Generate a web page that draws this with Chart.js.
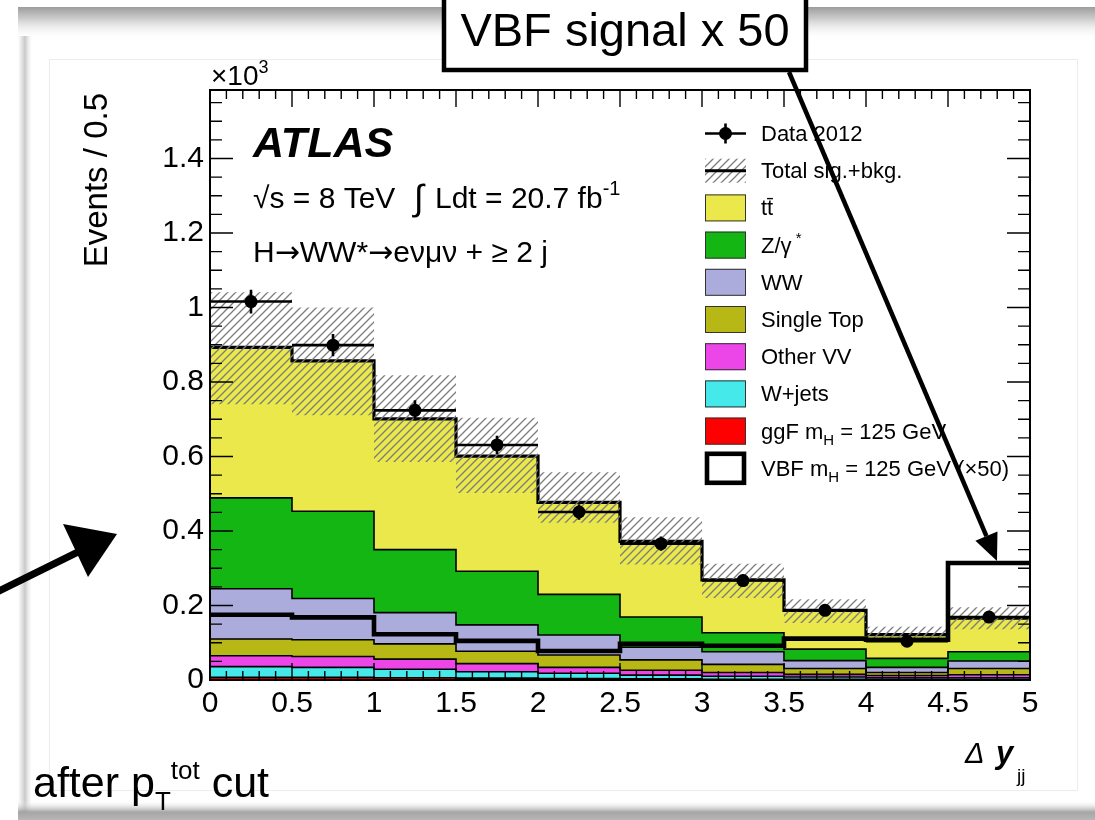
<!DOCTYPE html>
<html>
<head>
<meta charset="utf-8">
<title>Delta y_jj after pT tot cut</title>
<script src="https://cdn.jsdelivr.net/npm/chart.js@4.4.0/dist/chart.umd.min.js"></script>
<style>
  html, body { margin: 0; padding: 0; background: #fff; }
  canvas { display: block; }
</style>
</head>
<body>
<canvas id="dyjj" width="1095" height="820"></canvas>
<script>
// Delta y_jj distribution, events / 0.5 in units of 10^3
const binEdges = [0, 0.5, 1, 1.5, 2, 2.5, 3, 3.5, 4, 4.5, 5];
const xTickValues = [0, 0.5, 1, 1.5, 2, 2.5, 3, 3.5, 4, 4.5, 5];
const yTickValues = [0, 0.2, 0.4, 0.6, 0.8, 1, 1.2, 1.4];

// stacked contributions, bottom to top
const ggF       = [0.007, 0.007, 0.006, 0.005, 0.004, 0.003, 0.002, 0.002, 0.002, 0.002];
const wJets     = [0.029, 0.027, 0.023, 0.017, 0.014, 0.010, 0.008, 0.006, 0.004, 0.004];
const otherVV   = [0.029, 0.029, 0.027, 0.022, 0.016, 0.013, 0.010, 0.007, 0.006, 0.008];
const singleTop = [0.045, 0.045, 0.041, 0.033, 0.033, 0.028, 0.022, 0.016, 0.008, 0.017];
const wwBkg     = [0.135, 0.111, 0.084, 0.071, 0.054, 0.034, 0.034, 0.021, 0.014, 0.020];
const zGamma    = [0.244, 0.234, 0.169, 0.144, 0.109, 0.081, 0.051, 0.031, 0.024, 0.025];
const ttbar     = [0.404, 0.404, 0.351, 0.309, 0.247, 0.203, 0.142, 0.104, 0.064, 0.090];

// uncertainty band on the total
const bandUp   = [0.148, 0.143, 0.117, 0.103, 0.081, 0.065, 0.043, 0.030, 0.021, 0.029];
const bandDown = [0.153, 0.146, 0.116, 0.099, 0.055, 0.062, 0.049, 0.034, 0.018, 0.030];

// VBF signal scaled by 50
const vbfX50 = [0.175, 0.168, 0.123, 0.105, 0.078, 0.097, 0.092, 0.111, 0.108, 0.314];

// observed data with statistical errors
const data2012 = [1.016, 0.899, 0.724, 0.631, 0.451, 0.366, 0.267, 0.187, 0.104, 0.169];
const dataErr  = [0.032, 0.030, 0.027, 0.025, 0.021, 0.019, 0.016, 0.014, 0.010, 0.013];

const FONT = '"Liberation Sans", Arial, Helvetica, sans-serif';
const SYM = '"DejaVu Sans", sans-serif';

const layers = [
  { label: 'ggF', values: ggF, color: '#ff0000' },
  { label: 'W+jets', values: wJets, color: '#46e9e9' },
  { label: 'Other VV', values: otherVV, color: '#ec46e8' },
  { label: 'Single Top', values: singleTop, color: '#b7b716' },
  { label: 'WW', values: wwBkg, color: '#acacdc' },
  { label: 'Z/gamma*', values: zGamma, color: '#14b614' },
  { label: 'ttbar', values: ttbar, color: '#eae84a' }
];

// histogram outline points: value i holds from edge i to edge i+1
function steps(vals) {
  return binEdges.map((x, i) => ({ x: x, y: vals[Math.min(i, vals.length - 1)] }));
}

function makeHatch() {
  const t = document.createElement('canvas');
  t.width = 8; t.height = 8;
  const c = t.getContext('2d');
  c.strokeStyle = '#7c7c7c';
  c.lineWidth = 1.3;
  c.beginPath();
  c.moveTo(-1, 9); c.lineTo(9, -1);
  c.moveTo(-1, 1); c.lineTo(1, -1);
  c.moveTo(7, 9); c.lineTo(9, 7);
  c.stroke();
  return c.createPattern(t, 'repeat');
}
const hatch = makeHatch();

let running = vbfX50.map(() => 0);
const stackSets = layers.map((l, i) => {
  running = running.map((v, k) => v + l.values[k]);
  return {
    label: l.label,
    data: steps(running),
    stepped: 'before',
    borderColor: '#000',
    borderWidth: i === layers.length - 1 ? 3.2 : 1.6,
    borderJoinStyle: 'miter',
    backgroundColor: l.color,
    fill: i === 0 ? 'origin' : '-1',
    pointRadius: 0,
    order: 10
  };
});
const total = running;

const bandLow = {
  label: 'band low',
  data: steps(total.map((v, i) => v - bandDown[i])),
  stepped: 'before', borderWidth: 0, pointRadius: 0, fill: false, order: 5
};
const bandHigh = {
  label: 'Total sig.+bkg.',
  data: steps(total.map((v, i) => v + bandUp[i])),
  stepped: 'before', borderWidth: 0, pointRadius: 0,
  fill: '-1', backgroundColor: hatch, order: 5
};
const vbfSet = {
  label: 'VBF x50',
  data: steps(vbfX50),
  stepped: 'before', borderColor: '#000', borderWidth: 4.6, borderJoinStyle: 'miter',
  pointRadius: 0, fill: false, order: 3
};
const dataSet = {
  label: 'Data 2012',
  data: data2012.map((v, i) => ({ x: (binEdges[i] + binEdges[i + 1]) / 2, y: v })),
  showLine: false, pointRadius: 6.5, pointBackgroundColor: '#000',
  pointBorderColor: '#000', pointBorderWidth: 0, order: 1
};
const datasets = [...stackSets, bandLow, bandHigh, vbfSet, dataSet];
const DATA_INDEX = datasets.length - 1;

// text with sub/superscript pieces, returns the end x
// each part: [text, 'sub' | 'sup' | '', optional font family]
function rich(ctx, x, y, parts, size, scale) {
  const k = scale || 0.66;
  let cx = x;
  for (const [t, mode, fam] of parts) {
    const s = mode ? Math.round(size * k) : size;
    const dy = mode === 'sub' ? size * 0.3 : mode === 'sup' ? -size * 0.42 : 0;
    ctx.font = s + 'px ' + (fam || FONT);
    ctx.fillText(t, cx, y + dy);
    cx += ctx.measureText(t).width;
  }
  return cx;
}

function seg(ctx, x1, y1, x2, y2) {
  ctx.moveTo(x1, y1); ctx.lineTo(x2, y2);
}

function arrowHead(ctx, fromX, fromY, tipX, tipY, len, half) {
  const dx = tipX - fromX, dy = tipY - fromY;
  const d = Math.hypot(dx, dy);
  const ux = dx / d, uy = dy / d;
  const bx = tipX - ux * len, by = tipY - uy * len;
  ctx.beginPath();
  ctx.moveTo(fromX, fromY); ctx.lineTo(bx, by);
  ctx.stroke();
  ctx.beginPath();
  ctx.moveTo(tipX, tipY);
  ctx.lineTo(bx - uy * half, by + ux * half);
  ctx.lineTo(bx + uy * half, by - ux * half);
  ctx.closePath();
  ctx.fill();
}

const legendRows = [
  { kind: 'data', parts: [['Data 2012']] },
  { kind: 'band', parts: [['Total sig.+bkg.']] },
  { kind: 'box', color: layers[6].color, parts: [['tt\u0304']] },
  { kind: 'box', color: layers[5].color, parts: [['Z/\u03b3'], [' *', 'sup']] },
  { kind: 'box', color: layers[4].color, parts: [['WW']] },
  { kind: 'box', color: layers[3].color, parts: [['Single Top']] },
  { kind: 'box', color: layers[2].color, parts: [['Other VV']] },
  { kind: 'box', color: layers[1].color, parts: [['W+jets']] },
  { kind: 'box', color: layers[0].color, parts: [['ggF m'], ['H', 'sub'], [' = 125 GeV']] },
  { kind: 'vbf', parts: [['VBF m'], ['H', 'sub'], [' = 125 GeV (\u00d750)']] }
];

const atlasDecor = {
  id: 'atlasDecor',
  beforeDraw(chart) {
    const ctx = chart.ctx;
    ctx.save();
    ctx.fillStyle = '#fff';
    ctx.fillRect(0, 0, chart.width, chart.height);
    // page shadow, top
    let g = ctx.createLinearGradient(0, 6, 0, 40);
    g.addColorStop(0, 'rgba(125,125,125,0.8)');
    g.addColorStop(0.35, 'rgba(155,155,155,0.55)');
    g.addColorStop(1, 'rgba(255,255,255,0)');
    ctx.fillStyle = g;
    ctx.fillRect(18, 7, 1077, 33);
    // left edge
    g = ctx.createLinearGradient(18, 0, 32, 0);
    g.addColorStop(0, 'rgba(200,200,200,0)');
    g.addColorStop(0.5, 'rgba(195,195,195,0.9)');
    g.addColorStop(1, 'rgba(230,230,230,0)');
    ctx.fillStyle = g;
    ctx.fillRect(18, 36, 14, 776);
    // bottom
    g = ctx.createLinearGradient(0, 800, 0, 820);
    g.addColorStop(0, 'rgba(255,255,255,0)');
    g.addColorStop(0.6, 'rgba(150,150,150,0.85)');
    g.addColorStop(1, 'rgba(175,175,175,0.9)');
    ctx.fillStyle = g;
    ctx.fillRect(18, 800, 1077, 20);
    // canvas border
    ctx.strokeStyle = '#ececec';
    ctx.lineWidth = 1;
    ctx.strokeRect(49.5, 59.5, 1028, 731);
    ctx.restore();
  },
  beforeDatasetDraw(chart, args) {
    if (args.index !== DATA_INDEX) return;
    const { ctx, scales: { x, y } } = chart;
    ctx.save();
    ctx.strokeStyle = '#000';
    ctx.lineWidth = 2.6;
    ctx.beginPath();
    data2012.forEach((v, i) => {
      const py = y.getPixelForValue(v);
      const cx = x.getPixelForValue((binEdges[i] + binEdges[i + 1]) / 2);
      seg(ctx, x.getPixelForValue(binEdges[i]), py, x.getPixelForValue(binEdges[i + 1]), py);
      seg(ctx, cx, y.getPixelForValue(v - dataErr[i]), cx, y.getPixelForValue(v + dataErr[i]));
    });
    ctx.stroke();
    ctx.restore();
  },
  afterDatasetsDraw(chart) {
    const { ctx, chartArea: { left, right, top, bottom }, scales: { x, y } } = chart;
    ctx.save();
    ctx.strokeStyle = '#000';
    // tick marks inside the frame
    ctx.lineWidth = 1.4;
    ctx.beginPath();
    for (let k = 0; k <= 50; k++) {
      const px = x.getPixelForValue(k / 10);
      const len = k % 5 === 0 ? 17 : 9;
      seg(ctx, px, bottom, px, bottom - len);
      seg(ctx, px, top, px, top + len);
    }
    for (let k = 0; k * 0.05 <= y.max; k++) {
      const py = y.getPixelForValue(k * 0.05);
      const len = k % 4 === 0 ? 23 : 12;
      seg(ctx, left, py, left + len, py);
      seg(ctx, right, py, right - len, py);
    }
    ctx.stroke();
    ctx.lineWidth = 2;
    ctx.strokeRect(left, top, right - left, bottom - top);

    // texts
    ctx.fillStyle = '#000';
    ctx.textAlign = 'left';
    ctx.textBaseline = 'alphabetic';
    rich(ctx, 211, 85, [['\u00d710'], ['3', 'sup']], 28);
    ctx.font = 'bold italic 43px ' + FONT;
    ctx.fillText('ATLAS', 253, 157);
    let cx = rich(ctx, 253, 208, [['\u221as = 8 TeV  ']], 30);
    ctx.font = '36px ' + FONT;
    ctx.fillText('\u222b', cx + 2, 210);
    rich(ctx, 435, 208, [['Ldt = 20.7 fb'], ['-1', 'sup']], 30);
    rich(ctx, 253, 262, [
      ['H'], ['\u2192', '', SYM], ['WW*'], ['\u2192', '', SYM],
      ['e\u03bd\u03bc\u03bd + \u2265 2 j']
    ], 30);

    // legend
    const bx = 705, bw = 41, bh = 27, tx = 761;
    legendRows.forEach((row, i) => {
      const cy = 133.5 + i * 37.2;
      if (row.kind === 'data') {
        ctx.lineWidth = 2.6;
        ctx.beginPath();
        seg(ctx, bx, cy, bx + bw, cy);
        seg(ctx, bx + bw / 2, cy - 10, bx + bw / 2, cy + 10);
        ctx.stroke();
        ctx.beginPath();
        ctx.arc(bx + bw / 2, cy, 6.5, 0, Math.PI * 2);
        ctx.fill();
      } else if (row.kind === 'band') {
        ctx.fillStyle = hatch;
        ctx.fillRect(bx, cy - 12, bw, 24);
        ctx.fillStyle = '#000';
        ctx.lineWidth = 3;
        ctx.beginPath();
        seg(ctx, bx, cy, bx + bw, cy);
        ctx.stroke();
      } else if (row.kind === 'box') {
        ctx.fillStyle = row.color;
        ctx.fillRect(bx, cy - bh / 2, bw, bh);
        ctx.strokeStyle = '#333';
        ctx.lineWidth = 1;
        ctx.strokeRect(bx + 0.5, cy - bh / 2 + 0.5, bw - 1, bh - 1);
        ctx.strokeStyle = '#000';
        ctx.fillStyle = '#000';
      } else {
        ctx.lineWidth = 4.6;
        ctx.strokeRect(bx + 2, cy - bh / 2 - 1, bw - 4, bh + 2);
      }
      rich(ctx, tx, cy + 7.5, row.parts, 22);
    });
    ctx.restore();
  },
  afterDraw(chart) {
    const ctx = chart.ctx;
    ctx.save();
    ctx.fillStyle = '#000';
    ctx.strokeStyle = '#000';

    // y axis title
    ctx.save();
    ctx.translate(107, 93);
    ctx.rotate(-Math.PI / 2);
    ctx.textAlign = 'right';
    ctx.font = '33px ' + FONT;
    ctx.fillText('Events / 0.5', 0, 0);
    ctx.restore();

    // x axis title
    ctx.font = 'italic 29px ' + FONT;
    ctx.fillText('\u0394', 965, 763);
    ctx.font = 'bold italic 31px ' + FONT;
    ctx.fillText('y', 996, 763);
    ctx.font = '19px ' + FONT;
    ctx.fillText('jj', 1017, 782);

    // caption
    rich(ctx, 33, 797, [['after p'], ['T', 'sub'], ['tot', 'sup'], [' cut']], 43, 0.6);

    // VBF signal callout
    ctx.fillStyle = '#fff';
    ctx.fillRect(444, -6, 362, 76);
    ctx.lineWidth = 4.5;
    ctx.strokeRect(444, -6, 362, 76);
    ctx.fillStyle = '#000';
    ctx.font = '47px ' + FONT;
    ctx.textAlign = 'center';
    ctx.fillText('VBF signal x 50', 625, 46);
    ctx.textAlign = 'left';
    ctx.lineWidth = 4.5;
    arrowHead(ctx, 789, 72, 997, 561, 27, 12);

    // hand drawn arrow on the left
    ctx.lineWidth = 7;
    ctx.lineCap = 'round';
    ctx.beginPath();
    ctx.moveTo(-3, 592);
    ctx.lineTo(82, 550);
    ctx.stroke();
    ctx.beginPath();
    ctx.moveTo(63, 524);
    ctx.lineTo(117, 534);
    ctx.lineTo(88, 577);
    ctx.closePath();
    ctx.fill();
    ctx.restore();
  }
};

const tickFont = { family: FONT, size: 30 };
const fmt = v => String(+Number(v).toFixed(1));

new Chart(document.getElementById('dyjj'), {
  type: 'line',
  data: { datasets: datasets },
  options: {
    responsive: false,
    animation: false,
    events: [],
    layout: { padding: { left: 0, right: 65, top: 90, bottom: 0 } },
    plugins: { legend: { display: false }, tooltip: { enabled: false } },
    scales: {
      x: {
        type: 'linear', min: 0, max: 5,
        afterFit: s => { s.height = 140; },
        afterBuildTicks: s => { s.ticks = xTickValues.map(v => ({ value: v })); },
        grid: { display: false, drawTicks: false },
        border: { display: false },
        ticks: { color: '#000', font: tickFont, padding: 6, maxRotation: 0, autoSkip: false, callback: fmt }
      },
      y: {
        min: 0, max: 1.584,
        afterFit: s => { s.width = 210; },
        afterBuildTicks: s => { s.ticks = yTickValues.map(v => ({ value: v })); },
        grid: { display: false, drawTicks: false },
        border: { display: false },
        ticks: { color: '#000', font: tickFont, padding: 6, autoSkip: false, callback: fmt }
      }
    }
  },
  plugins: [atlasDecor]
});
</script>
</body>
</html>
